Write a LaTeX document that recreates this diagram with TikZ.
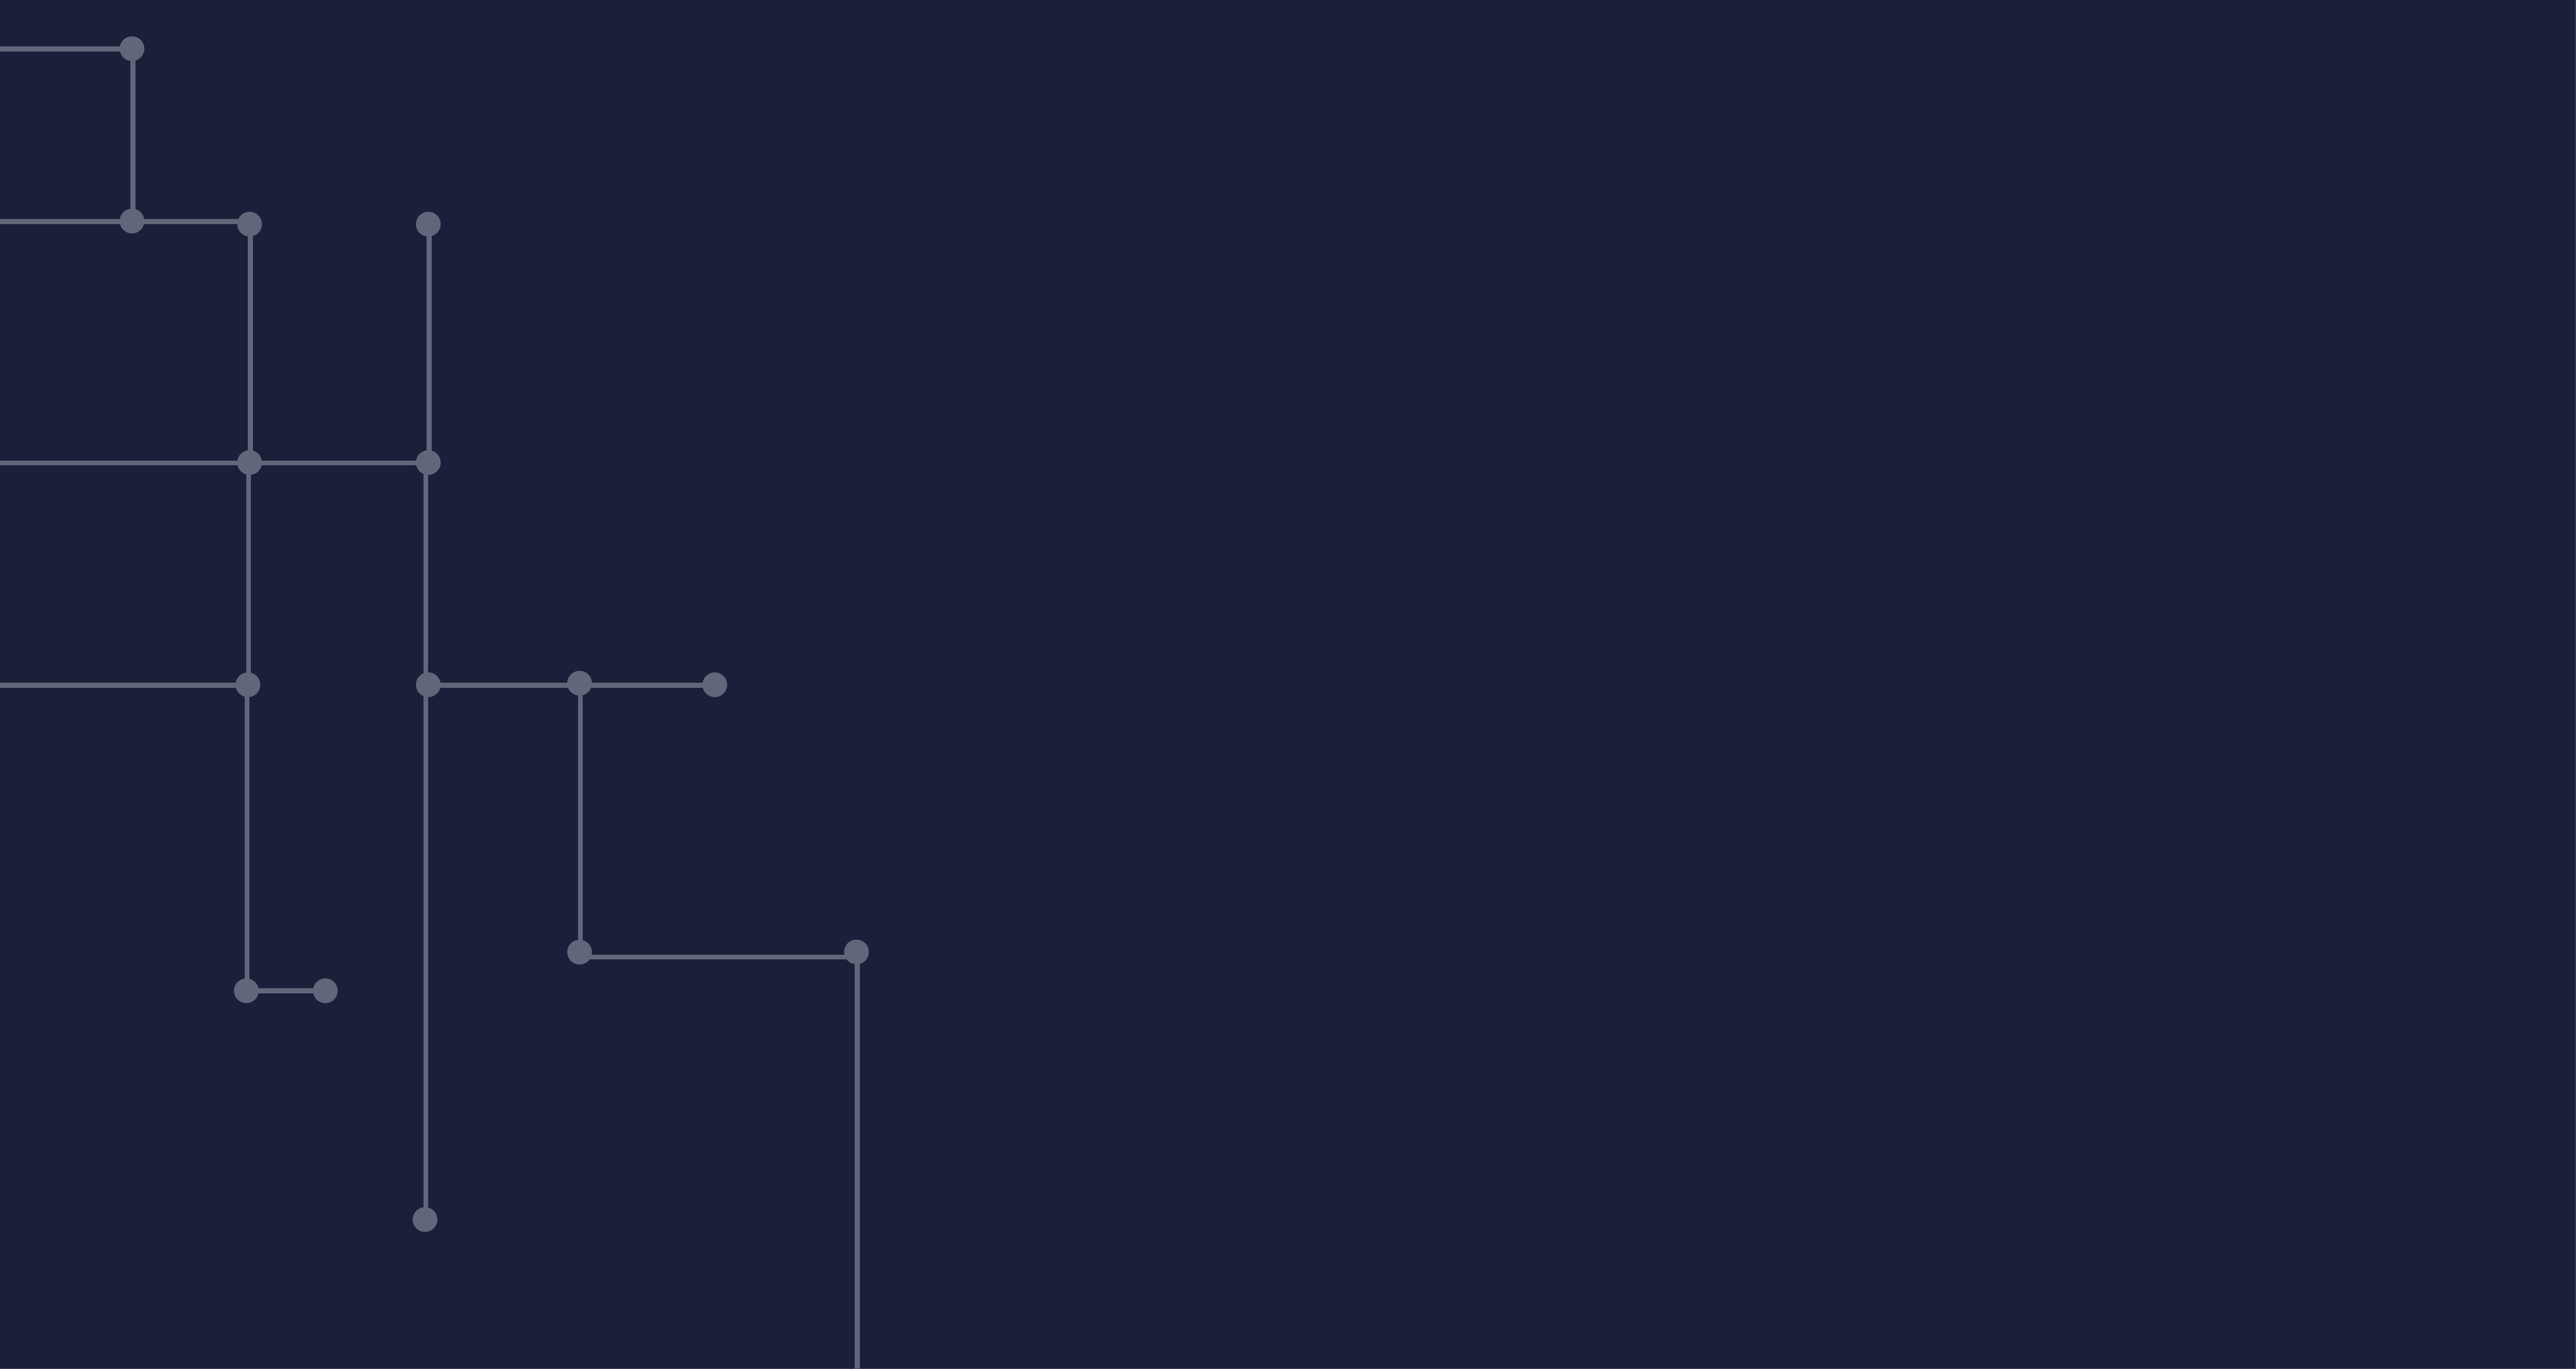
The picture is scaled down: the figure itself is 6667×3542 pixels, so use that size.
\documentclass[tikz,border=0pt]{standalone}
\definecolor{bgnavy}{HTML}{1B203A}
\definecolor{wiregrey}{HTML}{62667A}
\definecolor{edgegrey}{HTML}{4C5066}
\tikzset{
  wire/.style={draw=wiregrey,line width=1.3pt,line cap=butt},
  dot/.style={circle,fill=wiregrey,draw=none,inner sep=0pt,minimum size=6.4pt},
}
\begin{document}
\begin{tikzpicture}[x=0.1pt,y=-0.1pt]
\useasboundingbox (0,0) rectangle (6667,3542);
\fill[bgnavy] (0,0) rectangle (6667,3542);
\fill[edgegrey] (6665,0) rectangle (6667,3542);
\fill[edgegrey] (0,3541) rectangle (6667,3542);
% routing rails
\coordinate (ra) at (0,127);
\coordinate (rb) at (0,573);
\coordinate (rc) at (0,1198);
\coordinate (rd) at (0,1773);
\coordinate (re) at (0,2476.7);
\coordinate (rf) at (0,2564);
\coordinate (rbot) at (0,3542);
\coordinate (va) at (343.6,0);
\coordinate (vb) at (647.8,0);
\coordinate (vc) at (1110.5,0);
\coordinate (vd) at (643.4,0);
\coordinate (ve) at (1102,0);
\coordinate (vf) at (639.4,0);
\coordinate (vg) at (1502,0);
\coordinate (vh) at (2218.7,0);
% joints
\coordinate (A) at (341.6,126);
\coordinate (B) at (341.6,572);
\coordinate (C) at (646,580);
\coordinate (D) at (1108.5,580);
\coordinate (E) at (646,1197);
\coordinate (F) at (1108.5,1197);
\coordinate (G) at (641.7,1772);
\coordinate (H) at (1108.5,1772);
\coordinate (N) at (1500,1768);
\coordinate (P) at (1850,1772);
\coordinate (I) at (637.5,2564);
\coordinate (J) at (842,2564);
\coordinate (K) at (1100,3156);
\coordinate (L) at (1500,2464);
\coordinate (M) at (2216.7,2463.4);
% horizontal connectors
\draw[wire] (ra) -- (ra -| A);
\draw[wire] (rb) -- (rb -| C);
\draw[wire] (rc) -- (rc -| F);
\draw[wire] (rd) -- (rd -| G);
\draw[wire] (rd -| F) -- (rd -| P);
\draw[wire] (re -| L) -- (re -| M);
\draw[wire] (rf -| I) -- (rf -| J);
% vertical connectors
\draw[wire] (va |- A) -- (va |- B);
\draw[wire] (vb |- C) -- (vb |- E);
\draw[wire] (vc |- D) -- (vc |- F);
\draw[wire] (vd |- E) -- (vd |- G);
\draw[wire] (ve |- F) -- (ve |- K);
\draw[wire] (vf |- G) -- (vf |- I);
\draw[wire] (vg |- N) -- (vg |- L);
\draw[wire] (vh |- M) -- (vh |- rbot);
% dots
\foreach \n in {A,B,C,D,E,F,G,H,N,P,I,J,K,L,M}
  \node[dot] (dot\n) at (\n) {};
\end{tikzpicture}
\end{document}
